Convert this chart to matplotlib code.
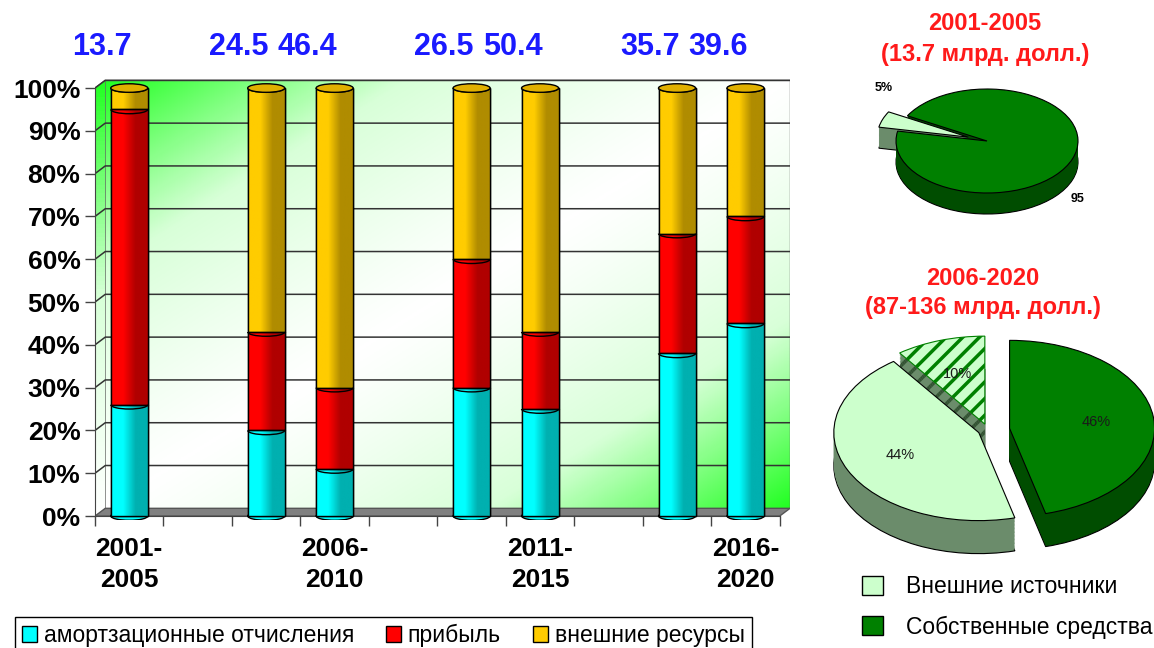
import numpy as np
import matplotlib.pyplot as plt
from matplotlib.colors import LinearSegmentedColormap
from matplotlib.patches import Ellipse, Arc, Polygon, Patch

plt.rcParams['font.family'] = ['Liberation Sans', 'DejaVu Sans']
plt.rcParams['hatch.linewidth'] = 2.5

# ---- data ----
slots = ['2001-\n2005', '', '', '2006-\n2010', '', '', '2011-\n2015', '', '', '2016-\n2020']
totals = [13.7, None, 24.5, 46.4, None, 26.5, 50.4, None, 35.7, 39.6]
amort = [26, 0, 20, 11, 0, 30, 25, 0, 38, 45]
profit = [69, 0, 23, 19, 0, 30, 18, 0, 28, 25]
extern = [5, 0, 57, 70, 0, 40, 57, 0, 34, 30]
series_names = ['амортзационные отчисления', 'прибыль', 'внешние ресурсы']
series_colors = ['#00ffff', '#ff0000', '#ffcc00']
series_dark = ['#00b0b0', '#b00000', '#b08c00']

pie_names = ['Внешние источники', 'Собственные средства']
pie1_vals = [5, 95]
pie1_title = '2001-2005\n(13.7 млрд. долл.)'
pie2_vals = [10, 44, 46]
pie2_title = '2006-2020\n(87-136 млрд. долл.)'
light, dark = '#ccffcc', '#008000'

W, H = 1154, 648
fig = plt.figure(figsize=(W / 100, H / 100), dpi=100)

# ---- stacked cylinders ----
ax = fig.add_axes([95 / W, 1 - 520.3 / H, 695 / W, (520.3 - 75.2) / H])
dx, dy = 0.15, 1.8  # 3d offset of back wall

for s in ['top', 'right']:
    ax.spines[s].set_visible(False)
ax.spines['bottom'].set_position(('data', 0))
ax.spines['bottom'].set_bounds(-0.5, 9.5)
ax.spines['bottom'].set_color('#444444')
ax.spines['left'].set_bounds(0, 100)
ax.spines['left'].set_color('#444444')

# back wall gradient
xx, yy = np.meshgrid(np.linspace(0, 1, 300), np.linspace(0, 1, 300))
wall = np.abs(xx - yy) ** 1.2
gcmap = LinearSegmentedColormap.from_list('g', ['#ffffff', '#d8ffd8', '#22ff22'])
ax.imshow(wall, cmap=gcmap, origin='lower', aspect='auto',
          extent=(-0.5 + dx, 9.5 + dx, dy, 100 + dy), zorder=0)
ax.plot([-0.5 + dx, 9.5 + dx, 9.5 + dx], [100 + dy, 100 + dy, dy], color='#666666', lw=1, zorder=1)

# left wall
lw_poly = Polygon([(-0.5, 0), (-0.5 + dx, dy), (-0.5 + dx, 100 + dy), (-0.5, 100)],
                  facecolor='#ccffcc', edgecolor='#666666', lw=1, zorder=1)
ax.add_patch(lw_poly)
im = ax.imshow(np.linspace(0, 1, 100).reshape(-1, 1), cmap=gcmap, origin='lower', aspect='auto',
               extent=(-0.5, -0.5 + dx, 0, 100 + dy), zorder=1.1)
im.set_clip_path(lw_poly)

# floor
ax.add_patch(Polygon([(-0.5, 0), (9.5, 0), (9.5 + dx, dy), (-0.5 + dx, dy)],
                     facecolor='#808080', edgecolor='#555555', lw=1, zorder=1.2))

# grid
for g in range(10, 101, 10):
    ax.plot([-0.5, -0.5 + dx, 9.5 + dx], [g, g + dy, g + dy], color='#333333', lw=1.1, zorder=1.5)

x = np.arange(len(slots))
bw = 0.54
bottom = np.zeros(len(slots))
handles = []
for vals, c, cd, name in zip([amort, profit, extern], series_colors, series_dark, series_names):
    vals = np.array(vals, float)
    bars = ax.bar(x, vals, bw, bottom=bottom, color=c, edgecolor='black', linewidth=1,
                  zorder=3, label=name)
    handles.append(bars)
    outline = ax.bar(x, vals, bw, bottom=bottom, fill=False, edgecolor='black', linewidth=1, zorder=4)
    cmap = LinearSegmentedColormap.from_list('c', [c, c, cd, cd])
    for b, o in zip(bars, outline):
        if b.get_height() == 0:
            b.set_visible(False)
            o.set_visible(False)
            continue
        im = ax.imshow(np.linspace(0, 1, 60).reshape(1, -1), cmap=cmap, aspect='auto',
                       extent=(b.get_x(), b.get_x() + bw, b.get_y(), b.get_y() + b.get_height()),
                       zorder=3.5)
        im.set_clip_path(b)
        ax.add_patch(Arc((b.get_x() + bw / 2, b.get_y() + b.get_height()), bw, 2.0,
                         theta1=180, theta2=360, color='black', lw=1, zorder=4.5))
    bottom += vals

for xi, t, h in zip(x, totals, bottom):
    if t is None:
        continue
    ax.add_patch(Ellipse((xi, 0), bw, 2.0, facecolor=series_colors[0], edgecolor='black', lw=1, zorder=2.9))
    ax.add_patch(Ellipse((xi, h), bw, 2.0, facecolor='#e0b000', edgecolor='black', lw=1, zorder=5))
    ax.text(xi - 0.4, 109.6, f'{t}', color='#1a1aff', fontsize=22, fontweight='bold',
            ha='center', va='center', clip_on=False)

ax.set_xlim(-0.5, 9.65)
ax.set_ylim(-1, 103)
ax.set_yticks(range(0, 101, 10))
ax.set_yticklabels([f'{v}%' for v in range(0, 101, 10)], fontsize=19, fontweight='bold')
ax.set_xticks(np.arange(-0.5, 10, 1))
ax.set_xticklabels([])
ax.set_xticks(x, minor=True)
ax.set_xticklabels(slots, minor=True, fontsize=19, fontweight='bold', linespacing=1.4)
ax.tick_params(axis='x', which='minor', length=0, pad=15)
ax.tick_params(axis='both', which='major', length=7, color='#444444', width=1)

fig.legend(handles=handles, loc='upper left', bbox_to_anchor=(15 / W, 1 - 617 / H), ncol=3,
           fontsize=16.5, frameon=True, fancybox=False, edgecolor='black', framealpha=1,
           handlelength=0.65, handleheight=0.65, handletextpad=0.3, columnspacing=1.4,
           borderpad=0.3, borderaxespad=0)


# ---- 3d pies ----
def pie_3d(box, center, rx, ry, depth, vals, tops, sides, explode, start, **kw):
    x0, y0, x1, y1 = box
    cx, cy = center
    pax = fig.add_axes([x0 / W, 1 - y1 / H, (x1 - x0) / W, (y1 - y0) / H])
    d = depth / ry
    n = 24
    side_layers = []
    for k in range(n, 0, -1):
        ws, _ = pax.pie(vals, colors=sides, explode=explode, startangle=start,
                        center=(0, -d * k / n),
                        wedgeprops=dict(linewidth=0.8 if k == n else 0, edgecolor='black'))
        side_layers.append(ws)
    res = pax.pie(vals, colors=tops, explode=explode, startangle=start,
                  wedgeprops=dict(linewidth=0.8, edgecolor='black'), **kw)
    pax.set_aspect('auto')
    pax.set_xlim((x0 - cx) / rx, (x1 - cx) / rx)
    pax.set_ylim((cy - y1) / ry, (cy - y0) / ry)
    return pax, side_layers, res


pax1, _, res1 = pie_3d((860, 72, 1110, 235), (987, 141), 91, 52, 21, pie1_vals,
                       [light, dark], ['#6b8c6b', '#004d00'], [0.22, 0], 151)
pax1.text(-1.14, 1.02, f'{pie1_vals[0]}%', fontsize=9, fontweight='bold', ha='center', va='center')
pax1.text(1.0, -1.12, f'{pie1_vals[1]}', fontsize=9, fontweight='bold', ha='center', va='center')
fig.text(985 / W, 1 - 39 / H, pie1_title, color='#ff1a1a', fontsize=17, fontweight='bold',
         ha='center', va='center', linespacing=1.4)

pax2, sides2, res2 = pie_3d((820, 322, 1154, 572), (988, 430), 145, 88, 33, pie2_vals,
                            [light, light, dark], ['#6b8c6b', '#6b8c6b', '#004d00'],
                            [0.07, 0.07, 0.15], 90, autopct='%d%%', pctdistance=0.6,
                            textprops=dict(fontsize=10.5, color='#1a1a1a'))
res2[0][0].set_hatch('//')
res2[0][0].set_edgecolor('#008000')
for ws in sides2:
    ws[0].set_hatch('//')
    ws[0].set_edgecolor('#2e4d2e')
fig.text(983 / W, 1 - 293 / H, pie2_title, color='#ff1a1a', fontsize=17, fontweight='bold',
         ha='center', va='center', linespacing=1.3)

pie_handles = [Patch(facecolor=light, edgecolor='black'), Patch(facecolor=dark, edgecolor='black')]
fig.legend(pie_handles, pie_names, loc='upper left', bbox_to_anchor=(853 / W, 1 - 566 / H),
           frameon=False, fontsize=16.5, handlelength=0.9, handleheight=0.9,
           handletextpad=1.0, labelspacing=0.75, borderaxespad=0)

fig.savefig('out.png', dpi=100)
